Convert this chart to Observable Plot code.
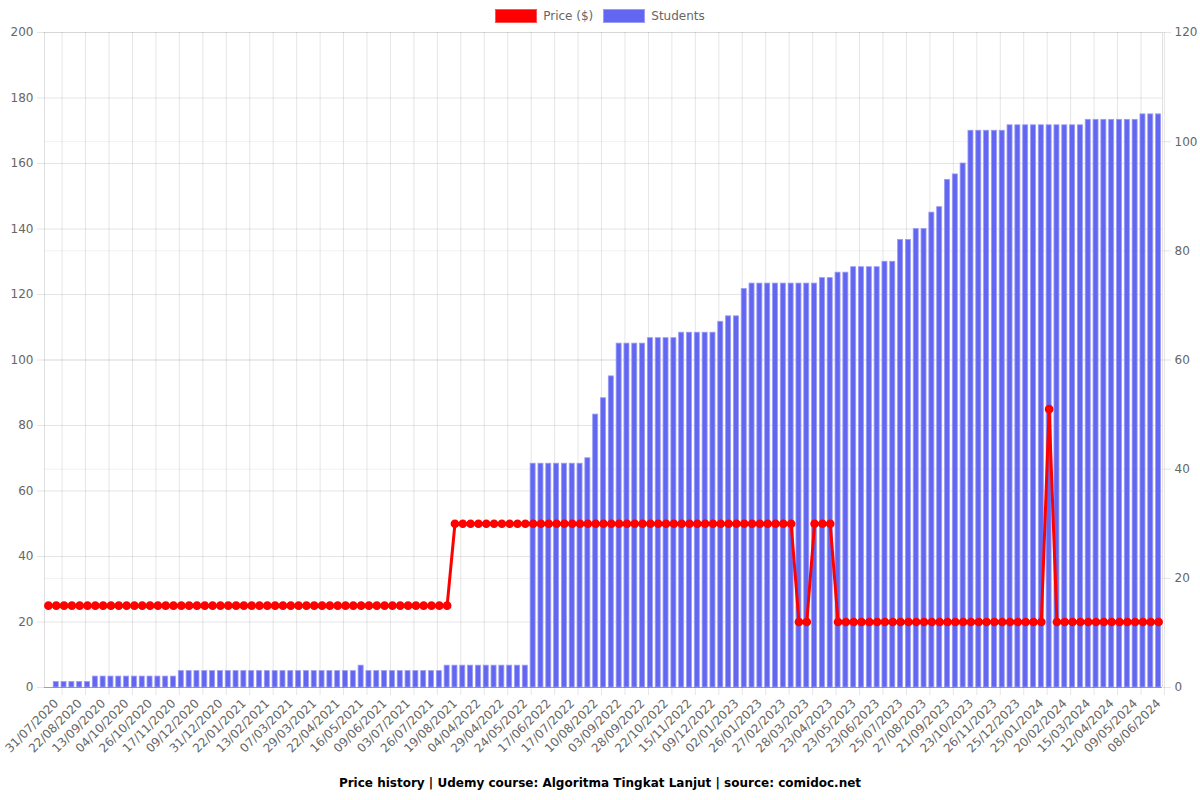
<!DOCTYPE html>
<html>
<head>
<meta charset="utf-8">
<script src="https://cdn.jsdelivr.net/npm/d3@7"></script>
<script src="https://cdn.jsdelivr.net/npm/@observablehq/plot@0.6"></script>
<style>
  body { margin: 0; background: #fff; font-family: "DejaVu Sans", sans-serif; width: 1200px; }
  #legend { height: 26px; display: flex; justify-content: center; align-items: center; font-size: 12px; color: #666; padding-top: 6px; box-sizing: border-box; }
  .item { display: flex; align-items: center; margin: 0 5px; }
  .sw { width: 42px; height: 14px; margin-right: 6px; box-sizing: border-box; }
  #caption { text-align: center; font-size: 12px; font-weight: bold; color: #000; height: 26px; line-height: 26px; }
  svg { display: block; }
</style>
</head>
<body>
<div id="legend">
  <div class="item"><div class="sw" style="background:#ff0000;border:1px solid #ff5050"></div>Price ($)</div>
  <div class="item"><div class="sw" style="background:#6366f1;border:1px solid #9a9cf5"></div>Students</div>
</div>
<div id="chart"></div>
<div id="caption">Price history | Udemy course: Algoritma Tingkat Lanjut | source: comidoc.net</div>
<script>
const tickLabels = [
  "31/07/2020","22/08/2020","13/09/2020","04/10/2020","26/10/2020","17/11/2020","09/12/2020","31/12/2020",
  "22/01/2021","13/02/2021","07/03/2021","29/03/2021","22/04/2021","16/05/2021","09/06/2021","03/07/2021",
  "26/07/2021","19/08/2021","04/04/2022","29/04/2022","24/05/2022","17/06/2022","17/07/2022","10/08/2022",
  "03/09/2022","28/09/2022","22/10/2022","15/11/2022","09/12/2022","02/01/2023","26/01/2023","27/02/2023",
  "28/03/2023","23/04/2023","23/05/2023","23/06/2023","25/07/2023","27/08/2023","21/09/2023","23/10/2023",
  "26/11/2023","25/12/2023","25/01/2024","20/02/2024","15/03/2024","12/04/2024","09/05/2024","08/06/2024"
];

const price = [
  25,25,25,25,25,25,25,25,25,25,
  25,25,25,25,25,25,25,25,25,25,
  25,25,25,25,25,25,25,25,25,25,
  25,25,25,25,25,25,25,25,25,25,
  25,25,25,25,25,25,25,25,25,25,
  25,25,50,50,50,50,50,50,50,50,
  50,50,50,50,50,50,50,50,50,50,
  50,50,50,50,50,50,50,50,50,50,
  50,50,50,50,50,50,50,50,50,50,
  50,50,50,50,50,50,20,20,50,50,
  50,20,20,20,20,20,20,20,20,20,
  20,20,20,20,20,20,20,20,20,20,
  20,20,20,20,20,20,20,20,85,20,
  20,20,20,20,20,20,20,20,20,20,
  20,20,20
];

const students = [
  0,1,1,1,1,1,2,2,2,2,
  2,2,2,2,2,2,2,3,3,3,
  3,3,3,3,3,3,3,3,3,3,
  3,3,3,3,3,3,3,3,3,3,
  4,3,3,3,3,3,3,3,3,3,
  3,4,4,4,4,4,4,4,4,4,
  4,4,41,41,41,41,41,41,41,42,
  50,53,57,63,63,63,63,64,64,64,
  64,65,65,65,65,65,67,68,68,73,
  74,74,74,74,74,74,74,74,74,75,
  75,76,76,77,77,77,77,78,78,82,
  82,84,84,87,88,93,94,96,102,102,
  102,102,102,103,103,103,103,103,103,103,
  103,103,103,104,104,104,104,104,104,104,
  105,105,105
];

const leftTicks = [0,20,40,60,80,100,120,140,160,180,200];
const rightTicks = [0,20,40,60,80,100,120];
const priceMax = 200, studentsMax = 120;
const k = priceMax / studentsMax;

const data = price.map((p, i) => ({i, price: p, students: students[i]}));
const idx = data.map(d => d.i);
const labelIdx = idx.filter(i => i % 3 === 0);
const labelOf = new Map(labelIdx.map((i, j) => [i, tickLabels[j]]));

const W = 1200, mL = 44, mR = 38;
const step = (W - mL - mR) / idx.length;

const chart = Plot.plot({
  width: W,
  height: 744,
  marginTop: 6,
  marginBottom: 83,
  marginLeft: mL,
  marginRight: mR,
  style: {fontFamily: "DejaVu Sans, sans-serif", fontSize: "12px", color: "#666", background: "#fff"},
  x: {type: "band", domain: idx, paddingInner: 0.36, paddingOuter: 0.18},
  y: {domain: [0, priceMax]},
  marks: [
    Plot.gridY(rightTicks.map(v => v * k), {stroke: "#000", strokeOpacity: 0.06}),
    Plot.gridY(leftTicks, {stroke: "#000", strokeOpacity: 0.1}),
    Plot.gridX(labelIdx, {dx: step * 1.75, stroke: "#000", strokeOpacity: 0.1}),
    Plot.ruleX([idx[0]], {dx: -step / 2, stroke: "#000", strokeOpacity: 0.12}),
    Plot.ruleX([idx[idx.length - 1]], {dx: step / 2, stroke: "#000", strokeOpacity: 0.12}),
    Plot.barY(data, {x: "i", y: d => d.students * k, fill: "#6366f1", stroke: "#9a9cf5", strokeWidth: 0.8}),
    Plot.ruleY([0], {stroke: "#000", strokeOpacity: 0.25}),
    Plot.line(data, {x: "i", y: "price", stroke: "#ff0000", strokeWidth: 3}),
    Plot.dot(data, {x: "i", y: "price", r: 3.6, fill: "#ff0000", stroke: "#ff0000"}),
    Plot.axisY(leftTicks, {anchor: "left", tickSize: 7, tickPadding: 4, stroke: "#000", strokeOpacity: 0.1, fill: "#666", label: null, fontSize: 12}),
    Plot.axisY(rightTicks.map(v => v * k), {anchor: "right", tickSize: 8, tickPadding: 4, tickFormat: d => Math.round(d / k), stroke: "#000", strokeOpacity: 0.1, fill: "#666", label: null, fontSize: 12}),
    Plot.axisX(labelIdx, {tickSize: 8, dx: step * 1.75, tickFormat: () => "", stroke: "#000", strokeOpacity: 0.1, label: null}),
    Plot.axisX(labelIdx, {tickSize: 0, tickPadding: 14, dx: 8, tickRotate: -45, tickFormat: i => labelOf.get(i), fill: "#666", label: null, fontSize: 12})
  ]
});
document.getElementById("chart").appendChild(chart);
</script>
</body>
</html>
